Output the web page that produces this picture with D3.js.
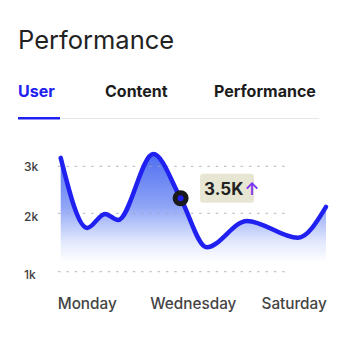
<!DOCTYPE html>
<html>
<head>
<meta charset="utf-8">
<script src="https://cdn.jsdelivr.net/npm/d3@7"></script>
<style>
  html, body { margin: 0; padding: 0; background: #fff; }
  svg { display: block; font-family: Inter, "Noto Sans", sans-serif; }
</style>
</head>
<body>
<svg id="chart" width="352" height="344"></svg>
<script>
// Weekly user activity, position along the week (0–100) and user count
const weekPos = [0, 10, 16.7, 21.6, 34.9, 45.2, 55.0, 70.2, 89.4, 100];
const users   = [3180, 1750, 1990, 1885, 3260, 2320, 1420, 1870, 1580, 2135];
const highlightIndex = 5;
const highlightLabel = "3.5K";

const yTicks = [1000, 2000, 3000];
const yTickLabels = ["1k", "2k", "3k"];
const xTickPos = [10, 50, 88];
const xTickLabels = ["Monday", "Wednesday", "Saturday"];

const tabs = ["User", "Content", "Performance"];
const activeTab = 0;
const title = "Performance";

const svg = d3.select("#chart");
const blue = "#2020f0";

// Header
svg.append("text").attr("x", 18).attr("y", 49)
  .attr("font-size", 25.5).attr("fill", "#222").text(title);

const tabX = [18, 105, 214];
svg.selectAll("text.tab").data(tabs).join("text")
  .attr("class", "tab")
  .attr("x", (d, i) => tabX[i]).attr("y", 97)
  .attr("font-size", 16).attr("font-weight", 700)
  .attr("fill", (d, i) => i === activeTab ? blue : "#1c1c1c")
  .text(d => d);

svg.append("line").attr("x1", 18).attr("x2", 319).attr("y1", 118.5).attr("y2", 118.5)
  .attr("stroke", "#e1e7ea").attr("stroke-width", 1.2);
svg.append("rect").attr("x", 18).attr("y", 117).attr("width", 42).attr("height", 2.5)
  .attr("fill", blue);

// Scales
const x = d3.scaleLinear().domain([0, 100]).range([60.7, 326]);
const y = d3.scaleLinear().domain(yTicks).range([271.7, 213.3, 166.3]);

const data = weekPos.map((p, i) => ({ p, v: users[i] }));

// Area gradient
const defs = svg.append("defs");
const grad = defs.append("linearGradient").attr("id", "fillGrad")
  .attr("gradientUnits", "userSpaceOnUse")
  .attr("x1", 0).attr("x2", 0).attr("y1", 150).attr("y2", 262);
grad.append("stop").attr("offset", 0).attr("stop-color", "#4a6af0");
grad.append("stop").attr("offset", 0.5).attr("stop-color", "#8ea4f6");
grad.append("stop").attr("offset", 0.82).attr("stop-color", "#e2e8fd");
grad.append("stop").attr("offset", 1).attr("stop-color", "#ffffff");

const curve = d3.curveMonotoneX;
const area = d3.area().curve(curve)
  .x(d => x(d.p)).y0(262).y1(d => y(d.v));
svg.append("path").datum(data).attr("d", area)
  .attr("fill", "url(#fillGrad)");

// Gridlines
svg.selectAll("line.grid").data(yTicks).join("line")
  .attr("class", "grid")
  .attr("x1", 58).attr("x2", 289)
  .attr("y1", d => y(d)).attr("y2", d => y(d))
  .attr("stroke", "#9ea3bd").attr("stroke-width", 1)
  .attr("stroke-dasharray", "2.5 5.8").attr("opacity", 0.8);

// Y labels
svg.selectAll("text.ylab").data(yTicks).join("text")
  .attr("class", "ylab")
  .attr("x", 24).attr("y", (d, i) => y(d) + 4.5 + (i < 2 ? 3 : 0))
  .attr("font-size", 12).attr("font-weight", 500).attr("fill", "#3c3c3c")
  .text((d, i) => yTickLabels[i]);

// X labels
svg.selectAll("text.xlab").data(xTickPos).join("text")
  .attr("class", "xlab")
  .attr("x", d => x(d)).attr("y", 308.5)
  .attr("text-anchor", "middle")
  .attr("font-size", 15.3).attr("font-weight", 500).attr("fill", "#444")
  .text((d, i) => xTickLabels[i]);

// Line
const line = d3.line().curve(curve).x(d => x(d.p)).y(d => y(d.v));
svg.append("path").datum(data).attr("d", line)
  .attr("fill", "none").attr("stroke", blue)
  .attr("stroke-width", 4.5).attr("stroke-linecap", "round");

// Highlighted point and tooltip
const hp = data[highlightIndex];
svg.append("circle").attr("cx", x(hp.p)).attr("cy", y(hp.v)).attr("r", 5.5)
  .attr("fill", blue).attr("stroke", "#1a1a1a").attr("stroke-width", 5);

const tip = svg.append("g").attr("transform", `translate(${x(hp.p) + 19.5},${y(hp.v) - 24.5})`);
tip.append("rect").attr("width", 54).attr("height", 29).attr("rx", 3)
  .attr("fill", "#e7e6d3");
const tt = tip.append("text").attr("x", 4).attr("y", 21.5)
  .attr("font-size", 17).attr("font-weight", 700).attr("fill", "#222");
tt.append("tspan").text(highlightLabel);
tt.append("tspan").attr("fill", "#7b2ff2").attr("font-weight", 600).attr("dx", 1).text("↑");
</script>
</body>
</html>
